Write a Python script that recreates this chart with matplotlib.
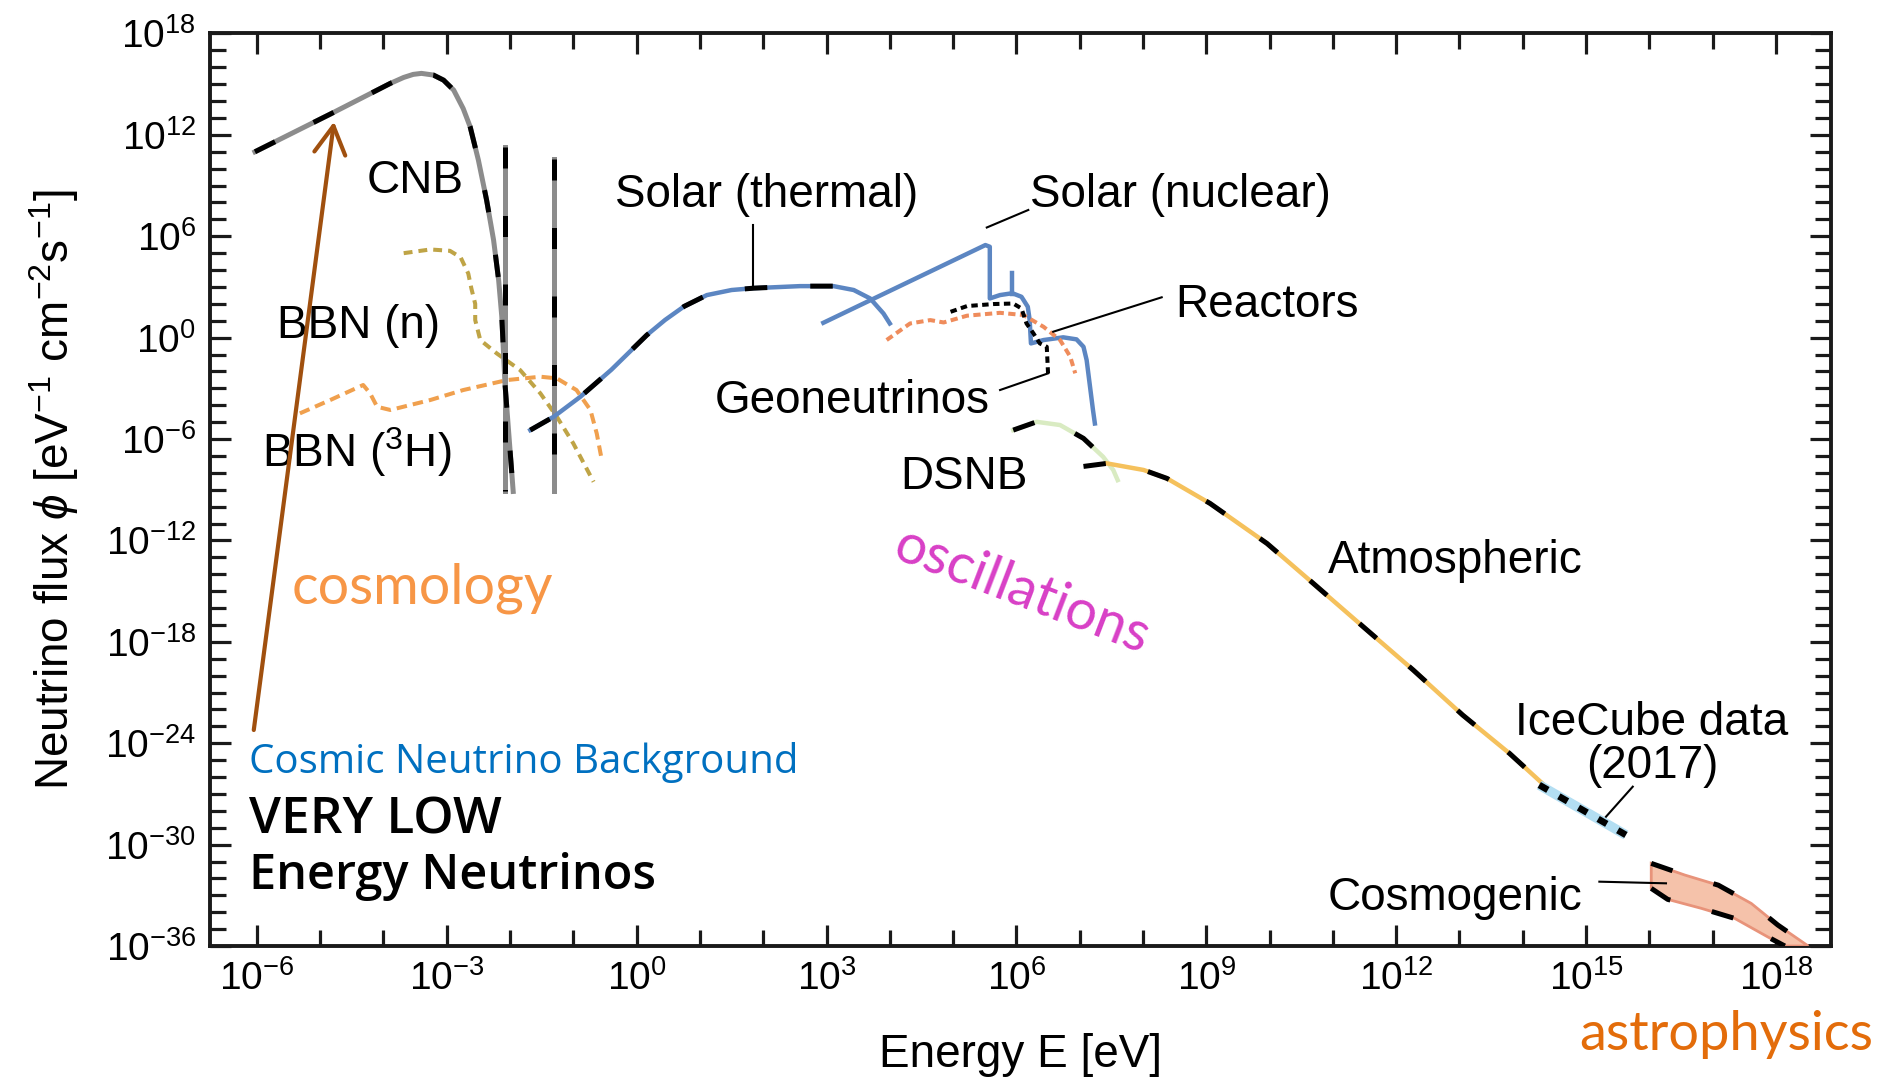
import numpy as np
import matplotlib
matplotlib.use("Agg")
import matplotlib.pyplot as plt
from matplotlib.ticker import FixedLocator, FuncFormatter
from matplotlib.patches import FancyArrowPatch

plt.rcParams['font.family'] = ['Liberation Sans', 'DejaVu Sans']
plt.rcParams['mathtext.fontset'] = 'custom'
plt.rcParams['mathtext.rm'] = 'Liberation Sans'
plt.rcParams['mathtext.it'] = 'Liberation Sans:italic'
plt.rcParams['mathtext.bf'] = 'Liberation Sans:bold'

# ---------------- data (log10 E [eV], log10 flux) ----------------
cnb_logE = [-6.03, -4.84, -3.89, -3.68, -3.53, -3.40, -3.21, -3.05, -2.89, -2.74,
            -2.63, -2.50, -2.37, -2.26, -2.18, -2.13, -2.08, -2.00, -1.95]
cnb_logF = [11.0, 13.23, 15.05, 15.40, 15.58, 15.64, 15.54, 15.24, 14.65, 13.56,
            12.48, 10.51, 8.14, 5.78, 3.41, 1.24, -2.71, -6.65, -9.1]
cnbm_logE = [-2.08, -1.31]
cnbm_top = [11.3, 10.6]
cnbm_bot = [-9.1, -9.1]

bbn_n_logE = [-3.68, -3.26, -2.95, -2.78, -2.66, -2.61, -2.55, -2.55, -2.47, -2.21,
              -1.84, -1.52, -1.26, -1.0, -0.68]
bbn_n_logF = [5.0, 5.22, 5.14, 4.75, 3.8, 2.9, 2.0, 1.04, -0.14, -0.93,
              -1.92, -3.30, -4.68, -6.26, -8.53]
bbn_t_logE = [-5.32, -4.84, -4.32, -4.21, -4.10, -3.89, -3.26, -2.74, -2.05, -1.52,
              -1.26, -0.95, -0.73, -0.63, -0.55]
bbn_t_logF = [-4.48, -3.69, -2.80, -3.30, -4.09, -4.28, -3.69, -3.10, -2.51, -2.31,
              -2.41, -3.10, -4.28, -5.67, -7.24]

sth_logE = [-1.68, -1.31, -0.89, -0.40, 0.16, 0.45, 0.75, 1.11, 1.5, 1.85,
            2.58, 3.11, 3.43, 3.69, 3.90, 4.0]
sth_logF = [-5.47, -4.68, -3.50, -1.9, 0.15, 1.05, 1.85, 2.52, 2.82, 2.93,
            3.05, 3.05, 2.82, 2.32, 1.43, 0.84]
sth_anti_n = 14  # antineutrino (dashed) part of the thermal flux

snu_logE = [2.95, 5.51, 5.58, 5.58, 5.74, 5.90, 5.95, 6.08, 6.18, 6.21,
            6.23, 6.43, 6.74, 6.95, 7.06, 7.11, 7.15, 7.21, 7.24]
snu_logF = [0.88, 5.48, 5.38, 2.32, 2.52, 2.61, 2.61, 2.42, 1.83, 1.04,
            -0.34, -0.14, 0.02, -0.1, -0.54, -1.33, -2.51, -4.28, -5.08]
be7_logE = [5.93, 5.93]
be7_logF = [2.6, 3.8]

geo_logE = [4.96, 5.22, 5.64, 5.95, 6.08, 6.16, 6.27, 6.37, 6.48, 6.50]
geo_logF = [1.53, 1.87, 1.99, 2.02, 1.73, 0.84, 0.25, -0.34, -0.54, -2.11]

rea_logE = [3.95, 4.32, 4.64, 4.85, 5.22, 5.74, 6.11, 6.43, 6.69, 6.85, 6.93]
rea_logF = [-0.14, 0.84, 1.04, 0.9, 1.30, 1.47, 1.34, 0.64, -0.14, -1.12, -2.11]

dsnb_logE = [5.95, 6.32, 6.69, 7.06, 7.37, 7.53, 7.60]
dsnb_logF = [-5.47, -4.98, -5.17, -5.96, -7.05, -7.83, -8.43]

atm_logE = [7.06, 7.43, 8.01, 8.38, 9.06, 9.96, 10.69, 11.48, 12.27, 13.05, 13.79, 14.31]
atm_logF = [-7.62, -7.44, -7.83, -8.33, -9.81, -12.18, -14.54, -17.11, -19.67, -22.33, -24.6, -26.38]

ice_logE = [14.26, 15.63]
ice_logF = [-26.47, -29.43]

cosu_logE = [16.03, 16.56, 17.09, 17.61, 18.03, 18.51]
cosu_logF = [-31.11, -31.80, -32.40, -33.48, -34.76, -36.0]
cosl_logE = [16.03, 16.29, 16.82, 17.35, 17.87, 18.14]
cosl_logF = [-32.59, -33.24, -33.77, -34.37, -35.46, -36.0]

xmajor = np.arange(-6, 19, 3)
ymajor = np.arange(-36, 19, 6)


def P(e, f):
    return 10.0 ** np.asarray(e, float), 10.0 ** np.asarray(f, float)


GRAY = '#8c8c8c'
BLUE = '#5c86c2'
OLIVE = '#bfa446'
ORANGE_T = '#f0a04e'
REACT = '#ef8c5c'
DSNB_G = '#d9ebc2'
ATM = '#f5c15c'
ICE = '#b3def2'
COS_F = '#f5c2aa'
COS_E = '#e8937a'
DASH = (0, (4.5, 8.6))
LWD = 3.6

fig = plt.figure(figsize=(18.86, 10.82), dpi=100)
ax = fig.add_axes([0.11135, 0.12569, 0.85949, 0.84335])
ax.set_xscale('log')
ax.set_yscale('log')
ax.set_xlim(10 ** -6.74, 10 ** 18.87)
ax.set_ylim(1e-36, 1e18)

# BBN
ax.plot(*P(bbn_n_logE, bbn_n_logF), color=OLIVE, lw=2.9, ls=(0, (2.2, 1.5)), zorder=2)
ax.plot(*P(bbn_t_logE, bbn_t_logF), color=ORANGE_T, lw=2.9, ls=(0, (2.6, 1.5)), zorder=2)

# CNB
ax.plot(*P(cnb_logE, cnb_logF), color=GRAY, lw=LWD, zorder=3)
ax.plot(*P(cnb_logE, cnb_logF), color='k', lw=LWD, ls=DASH, zorder=4)
for e, t, b in zip(cnbm_logE, cnbm_top, cnbm_bot):
    ax.plot(*P([e, e], [t, b]), color=GRAY, lw=LWD, zorder=3)
    ax.plot(*P([e, e], [t, b]), color='k', lw=LWD, ls=(0, (4.2, 9.5)), zorder=4)

# Solar
ax.plot(*P(sth_logE, sth_logF), color=BLUE, lw=3.2, zorder=3)
ax.plot(*P(sth_logE[:sth_anti_n], sth_logF[:sth_anti_n]), color='k', lw=LWD, ls=DASH, zorder=4)
ax.plot(*P(snu_logE, snu_logF), color=BLUE, lw=3.2, zorder=3)
ax.plot(*P(be7_logE, be7_logF), color=BLUE, lw=3.2, zorder=3)

# Reactors, geoneutrinos
ax.plot(*P(rea_logE, rea_logF), color=REACT, lw=2.9, ls=(0, (1.8, 1.1)), zorder=3)
ax.plot(*P(geo_logE, geo_logF), color='k', lw=2.9, ls=(0, (1.6, 1.1)), zorder=4)

# DSNB
ax.plot(*P(dsnb_logE, dsnb_logF), color=DSNB_G, lw=3.2, zorder=3)
ax.plot(*P(dsnb_logE[:-1], dsnb_logF[:-1]), color='k', lw=LWD, ls=DASH, zorder=4)

# Atmospheric
ax.plot(*P(atm_logE[1:], atm_logF[1:]), color=ATM, lw=3.2, zorder=3)
ax.plot(*P(atm_logE, atm_logF), color='k', lw=LWD, ls=DASH, zorder=4)

# IceCube
ax.plot(*P(ice_logE, ice_logF), color=ICE, lw=7.0, zorder=3, solid_capstyle='butt')
ax.plot(*P(ice_logE, ice_logF), color='k', lw=4.8, ls=(0, (1.5, 1.9)), zorder=4)

# Cosmogenic band
bx, by = P(list(cosu_logE) + list(cosl_logE)[::-1], list(cosu_logF) + list(cosl_logF)[::-1])
ax.fill(bx, by, facecolor=COS_F, edgecolor=COS_E, lw=2.0, zorder=3)
ax.plot(*P(cosu_logE, cosu_logF), color='k', lw=LWD, ls=DASH, zorder=4)
ax.plot(*P(cosl_logE, cosl_logF), color='k', lw=LWD, ls=DASH, zorder=4)

# ---------------- axes styling ----------------
ax.xaxis.set_major_locator(FixedLocator(10.0 ** xmajor))
ax.xaxis.set_minor_locator(FixedLocator(10.0 ** np.arange(-6, 19, 1)))
ax.yaxis.set_major_locator(FixedLocator(10.0 ** ymajor))
ax.yaxis.set_minor_locator(FixedLocator(10.0 ** np.arange(-36, 19, 1)))
fmt = FuncFormatter(lambda v, p: r'$10^{%d}$' % int(round(np.log10(v))))
ax.xaxis.set_major_formatter(fmt)
ax.yaxis.set_major_formatter(fmt)
ax.xaxis.set_minor_formatter(FuncFormatter(lambda v, p: ''))
ax.yaxis.set_minor_formatter(FuncFormatter(lambda v, p: ''))
ax.tick_params(which='both', direction='in', top=True, right=True, width=2.3, color='#1a1a1a')
ax.tick_params(which='major', length=15, labelsize=28, pad=10)
ax.tick_params(which='minor', length=11.5)
for s in ax.spines.values():
    s.set_linewidth(2.8)
    s.set_color('#1a1a1a')

ax.set_xlabel('Energy E [eV]', fontsize=33)
ax.xaxis.set_label_coords(0.5, -0.0953)
ax.set_ylabel(r'Neutrino flux $\phi$ [eV$^{-1}$ cm$^{-2}$s$^{-1}$]', fontsize=33)
ax.yaxis.set_label_coords(-0.0796, 0.5)

# ---------------- labels ----------------
TK = dict(transform=ax.transAxes, fontsize=33, ha='left', va='baseline', color='black', zorder=6)
ax.text(0.0967, 0.8252, 'CNB', **TK)
ax.text(0.2498, 0.8102, 'Solar (thermal)', **TK)
ax.text(0.5059, 0.8099, 'Solar (nuclear)', **TK)
ax.text(0.5953, 0.6896, 'Reactors', **TK)
ax.text(0.3115, 0.5838, 'Geoneutrinos', **TK)
ax.text(0.4257, 0.5003, 'DSNB', **TK)
ax.text(0.0411, 0.6660, 'BBN (n)', **TK)
ax.text(0.0319, 0.5253, r'BBN ($^3$H)', **TK)
ax.text(0.6899, 0.4084, 'Atmospheric', **TK)
ax.text(0.8896, 0.2312, 'IceCube data', **dict(TK, ha='center'))
ax.text(0.8896, 0.1838, '(2017)', **dict(TK, ha='center'))
ax.text(0.6897, 0.0395, 'Cosmogenic', **TK)

leaders = [((0.3351, 0.7901), (0.3351, 0.7208)),
           ((0.5048, 0.8066), (0.4792, 0.7874)),
           ((0.5871, 0.7109), (0.5202, 0.6732)),
           ((0.4874, 0.6093), (0.5171, 0.6276)),
           ((0.8777, 0.1746), (0.8612, 0.1417)),
           ((0.8571, 0.0705), (0.8982, 0.0687))]
for a, b in leaders:
    ax.plot([a[0], b[0]], [a[1], b[1]], transform=ax.transAxes, color='k', lw=1.5, zorder=5)

# ---------------- overlay annotations ----------------
arr = FancyArrowPatch((0.0270, 0.2367), (0.0765, 0.9033), transform=ax.transAxes,
                      arrowstyle='->,head_length=0.5,head_width=0.28', mutation_scale=40,
                      lw=3.0, color='#a0500f', shrinkA=0, shrinkB=0, zorder=7, clip_on=False)
ax.add_patch(arr)

ax.text(0.0506, 0.3748, 'cosmology', transform=ax.transAxes, family=['Lato', 'DejaVu Sans'],
        fontsize=40, color='#f79646', ha='left', va='baseline', zorder=7)
ax.text(0.5009, 0.388, 'oscillations', transform=ax.transAxes, family=['Lato', 'DejaVu Sans'],
        fontsize=40, color='#d83fc6', ha='center', va='center', rotation=-21, zorder=7)
fig.text(0.9152, 0.0296, 'astrophysics', family=['Lato', 'DejaVu Sans'],
         fontsize=39, color='#e36c0a', ha='center', va='baseline')

CK = dict(transform=ax.transAxes, family=['Open Sans', 'DejaVu Sans'], ha='left', va='baseline',
          zorder=7, clip_on=False)
ax.text(0.0241, 0.1896, 'Cosmic Neutrino Background', fontsize=29, color='#0070c0', **CK)
ax.text(0.0241, 0.1233, 'VERY LOW', fontsize=37, color='black', fontweight='semibold', **CK)
ax.text(0.0241, 0.0625, 'Energy Neutrinos', fontsize=35, color='black', fontweight='semibold', **CK)

fig.savefig('out.png', dpi=100)
